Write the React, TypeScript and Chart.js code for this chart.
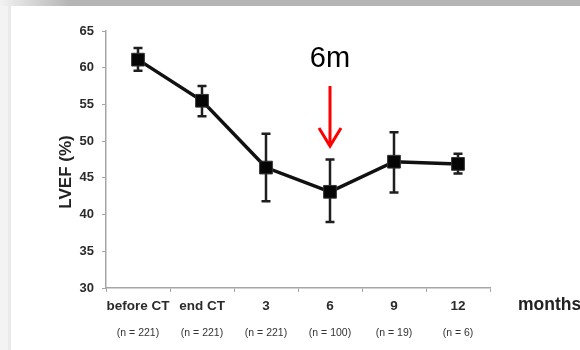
import React, { useEffect, useRef } from "react";
import { Chart, registerables } from "chart.js";

Chart.register(...registerables);

const categories = ["before CT", "end CT", "3", "6", "9", "12"];
const nLabels = ["(n = 221)", "(n = 221)", "(n = 221)", "(n = 100)", "(n = 19)", "(n = 6)"];
const lvef = [61.1, 55.5, 46.4, 43.1, 47.2, 46.9];
const errHigh = [62.7, 57.5, 51.0, 47.5, 51.2, 48.3];
const errLow = [59.6, 53.4, 41.8, 39.0, 43.0, 45.6];
const yTicks = { min: 30, max: 65, step: 5 };
const yTitle = "LVEF (%)";
const xUnit = "months";
const annotationText = "6m";
const annotationIndex = 3;

const FONT = "'Liberation Sans', Arial, Helvetica, sans-serif";

const decorPlugin = {
  id: "decor",
  beforeDraw(chart: any) {
    const ctx = chart.ctx;
    ctx.save();
    ctx.fillStyle = "#ffffff";
    ctx.fillRect(0, 0, chart.width, chart.height);
    ctx.fillStyle = "#f3f3f3";
    ctx.fillRect(0, 0, 8, chart.height);
    ctx.fillStyle = "#e9e9e9";
    ctx.fillRect(8, 6, 3, chart.height - 6);
    const g = ctx.createLinearGradient(0, 0, 70, 0);
    g.addColorStop(0, "#f2f2f2");
    g.addColorStop(1, "#b5b5b5");
    ctx.fillStyle = g;
    ctx.fillRect(0, 0, chart.width, 6);
    ctx.restore();
  },
  beforeDatasetsDraw(chart: any) {
    const ctx = chart.ctx;
    const xs = chart.scales.x;
    const ys = chart.scales.y;
    ctx.save();
    ctx.strokeStyle = "#1e1e1e";
    ctx.lineWidth = 2.5;
    for (let i = 0; i < categories.length; i++) {
      const x = xs.getPixelForValue(i);
      const yt = ys.getPixelForValue(errHigh[i]);
      const yb = ys.getPixelForValue(errLow[i]);
      ctx.beginPath();
      ctx.moveTo(x, yt);
      ctx.lineTo(x, yb);
      ctx.moveTo(x - 4.5, yt);
      ctx.lineTo(x + 4.5, yt);
      ctx.moveTo(x - 4.5, yb);
      ctx.lineTo(x + 4.5, yb);
      ctx.stroke();
    }
    ctx.restore();
  },
  afterDraw(chart: any) {
    const ctx = chart.ctx;
    const xs = chart.scales.x;
    ctx.save();
    ctx.fillStyle = "#333333";
    ctx.font = `10.5px ${FONT}`;
    ctx.textAlign = "center";
    ctx.textBaseline = "middle";
    for (let i = 0; i < nLabels.length; i++) {
      ctx.fillText(nLabels[i], xs.getPixelForValue(i), 333);
    }
    ctx.fillStyle = "#222222";
    ctx.font = `bold 17.5px ${FONT}`;
    ctx.textAlign = "left";
    ctx.fillText(xUnit, 518, 305);
    ctx.save();
    ctx.translate(66, 172);
    ctx.rotate(-Math.PI / 2);
    ctx.textAlign = "center";
    ctx.textBaseline = "middle";
    ctx.font = `bold 17px ${FONT}`;
    ctx.fillStyle = "#222222";
    ctx.fillText(yTitle, 0, 0);
    ctx.restore();
    const ax = xs.getPixelForValue(annotationIndex);
    ctx.fillStyle = "#000000";
    ctx.font = `29px ${FONT}`;
    ctx.textAlign = "center";
    ctx.textBaseline = "alphabetic";
    ctx.fillText(annotationText, ax, 67);
    ctx.strokeStyle = "#ff0000";
    ctx.lineWidth = 3;
    ctx.lineCap = "butt";
    ctx.beginPath();
    ctx.moveTo(ax, 86);
    ctx.lineTo(ax, 146);
    ctx.stroke();
    ctx.lineJoin = "miter";
    ctx.beginPath();
    ctx.moveTo(ax - 11, 128);
    ctx.lineTo(ax, 146);
    ctx.lineTo(ax + 11, 128);
    ctx.stroke();
    ctx.restore();
  },
};

export default function App() {
  const ref = useRef<HTMLCanvasElement | null>(null);
  useEffect(() => {
    if (!ref.current) return;
    const chart = new Chart(ref.current, {
      type: "line",
      data: {
        labels: categories,
        datasets: [
          {
            data: lvef,
            borderColor: "#111111",
            borderWidth: 3.5,
            pointStyle: "rect",
            pointRadius: 9,
            pointBackgroundColor: "#050505",
            pointBorderColor: "#333333",
            pointBorderWidth: 1,
            tension: 0,
          },
        ],
      },
      options: {
        responsive: false,
        animation: false,
        devicePixelRatio: 1,
        layout: { padding: { left: 0, right: 90, top: 31, bottom: 0 } },
        plugins: { legend: { display: false }, tooltip: { enabled: false } },
        scales: {
          x: {
            type: "category",
            offset: true,
            grid: { display: true, drawOnChartArea: false, drawTicks: true, tickLength: 4, offset: true, color: "#a6a6a6" },
            border: { display: true, color: "#a6a6a6", width: 1.5 },
            ticks: { color: "#2a2a2a", font: { family: FONT, size: 13.5, weight: "bold" }, padding: 6, maxRotation: 0, autoSkip: false },
            afterFit: (s: any) => { s.height = 62; },
          },
          y: {
            min: yTicks.min,
            max: yTicks.max,
            grid: { display: true, drawOnChartArea: false, drawTicks: true, tickLength: 4, color: "#a6a6a6" },
            border: { display: true, color: "#a6a6a6", width: 1.5 },
            ticks: { stepSize: yTicks.step, color: "#2a2a2a", font: { family: FONT, size: 13, weight: "bold" }, padding: 8 },
            afterFit: (s: any) => { s.width = 106; },
          },
        },
      },
      plugins: [decorPlugin],
    } as any);
    return () => chart.destroy();
  }, []);
  return (
    <div style={{ position: "absolute", left: 0, top: 0, width: 580, height: 350 }}>
      <canvas ref={ref} width={580} height={350} style={{ width: 580, height: 350, display: "block" }} />
    </div>
  );
}
